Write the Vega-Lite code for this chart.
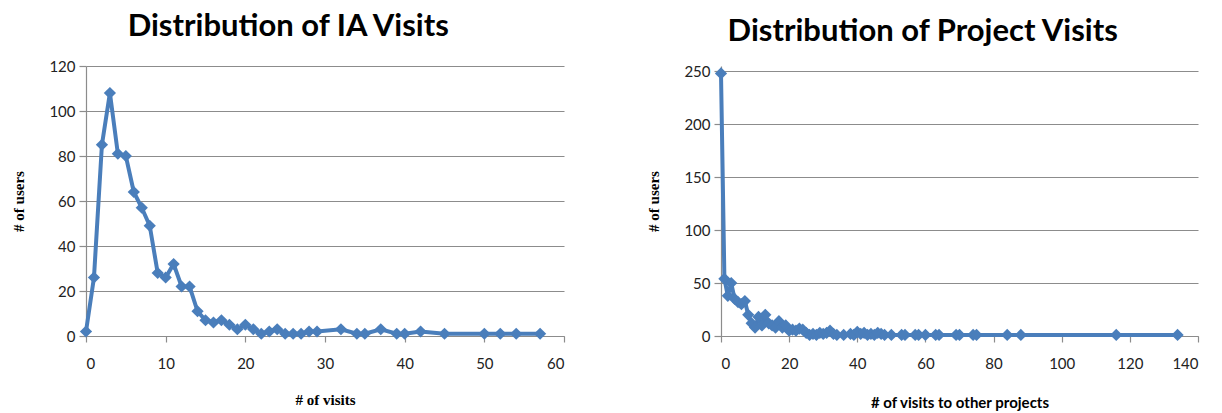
{
  "$schema": "https://vega.github.io/schema/vega-lite/v6.json",
  "background": "white",
  "padding": {"left": 11, "top": 11, "right": 14, "bottom": 5},
  "spacing": 81,
  "config": {
    "view": {"stroke": null},
    "title": {"font": "Lato", "fontWeight": "bold", "fontSize": 31, "color": "#000000", "anchor": "middle", "frame": "bounds", "offset": 16},
    "axis": {
      "labelFont": "Lato", "labelFontSize": 15, "labelColor": "#222222",
      "domainColor": "#8c8c8c", "tickColor": "#8c8c8c", "gridColor": "#8c8c8c",
      "domainWidth": 1.2, "tickWidth": 1.2, "gridWidth": 1.2,
      "titleColor": "#000000", "titleFontWeight": "bold"
    }
  },
  "datasets": {
    "ia": [
      {"visits": 0, "users": 2}, {"visits": 1, "users": 26}, {"visits": 2, "users": 85},
      {"visits": 3, "users": 108}, {"visits": 4, "users": 81}, {"visits": 5, "users": 80},
      {"visits": 6, "users": 64}, {"visits": 7, "users": 57}, {"visits": 8, "users": 49},
      {"visits": 9, "users": 28}, {"visits": 10, "users": 26}, {"visits": 11, "users": 32},
      {"visits": 12, "users": 22}, {"visits": 13, "users": 22}, {"visits": 14, "users": 11},
      {"visits": 15, "users": 7}, {"visits": 16, "users": 6}, {"visits": 17, "users": 7},
      {"visits": 18, "users": 5}, {"visits": 19, "users": 3}, {"visits": 20, "users": 5},
      {"visits": 21, "users": 3}, {"visits": 22, "users": 1}, {"visits": 23, "users": 2},
      {"visits": 24, "users": 3}, {"visits": 25, "users": 1}, {"visits": 26, "users": 1},
      {"visits": 27, "users": 1}, {"visits": 28, "users": 2}, {"visits": 29, "users": 2},
      {"visits": 32, "users": 3}, {"visits": 34, "users": 1}, {"visits": 35, "users": 1},
      {"visits": 37, "users": 3}, {"visits": 39, "users": 1}, {"visits": 40, "users": 1},
      {"visits": 42, "users": 2}, {"visits": 45, "users": 1}, {"visits": 50, "users": 1},
      {"visits": 52, "users": 1}, {"visits": 54, "users": 1}, {"visits": 57, "users": 1}
    ],
    "projects": [
      {"visits": 0, "users": 248}, {"visits": 1, "users": 54}, {"visits": 2, "users": 38},
      {"visits": 3, "users": 50}, {"visits": 4, "users": 35}, {"visits": 5, "users": 32},
      {"visits": 6, "users": 30}, {"visits": 7, "users": 33}, {"visits": 8, "users": 20},
      {"visits": 9, "users": 12}, {"visits": 10, "users": 8}, {"visits": 11, "users": 18},
      {"visits": 12, "users": 10}, {"visits": 13, "users": 20}, {"visits": 14, "users": 12},
      {"visits": 15, "users": 10}, {"visits": 16, "users": 8}, {"visits": 17, "users": 14},
      {"visits": 18, "users": 8}, {"visits": 19, "users": 10}, {"visits": 20, "users": 5},
      {"visits": 21, "users": 6}, {"visits": 22, "users": 5}, {"visits": 23, "users": 7},
      {"visits": 24, "users": 6}, {"visits": 25, "users": 3}, {"visits": 26, "users": 1},
      {"visits": 27, "users": 2}, {"visits": 28, "users": 1}, {"visits": 29, "users": 3},
      {"visits": 30, "users": 2}, {"visits": 31, "users": 3}, {"visits": 32, "users": 5},
      {"visits": 33, "users": 2}, {"visits": 34, "users": 1}, {"visits": 36, "users": 1},
      {"visits": 38, "users": 2}, {"visits": 39, "users": 1}, {"visits": 40, "users": 4},
      {"visits": 41, "users": 2}, {"visits": 42, "users": 3}, {"visits": 43, "users": 1},
      {"visits": 44, "users": 2}, {"visits": 45, "users": 1}, {"visits": 46, "users": 3},
      {"visits": 47, "users": 2}, {"visits": 48, "users": 1}, {"visits": 50, "users": 1},
      {"visits": 53, "users": 1}, {"visits": 54, "users": 1}, {"visits": 57, "users": 1},
      {"visits": 58, "users": 1}, {"visits": 60, "users": 1}, {"visits": 63, "users": 1},
      {"visits": 64, "users": 1}, {"visits": 69, "users": 1}, {"visits": 70, "users": 1},
      {"visits": 74, "users": 1}, {"visits": 75, "users": 1}, {"visits": 84, "users": 1},
      {"visits": 88, "users": 1}, {"visits": 116, "users": 1}, {"visits": 134, "users": 1}
    ]
  },
  "hconcat": [
    {
      "title": "Distribu\u200Cti\u200Con of IA Visits",
      "width": 478,
      "height": 270,
      "data": {"name": "ia"},
      "mark": {"type": "line", "color": "#4a7ebb", "strokeWidth": 4, "point": {"shape": "diamond", "size": 150, "color": "#4a7ebb", "filled": true, "opacity": 1}},
      "encoding": {
        "x": {"field": "visits", "type": "quantitative", "scale": {"domain": [0, 60], "nice": false},
          "axis": {"values": [0, 10, 20, 30, 40, 50, 60], "grid": false, "tickSize": 6, "labelPadding": 14,
            "title": "# of visits", "titleFont": "Liberation Serif", "titleFontSize": 15, "titlePadding": 21}},
        "y": {"field": "users", "type": "quantitative", "scale": {"domain": [0, 120], "nice": false},
          "axis": {"values": [0, 20, 40, 60, 80, 100, 120], "grid": true, "tickSize": 7, "labelPadding": 4,
            "title": "# of users", "titleFont": "Liberation Serif", "titleFontSize": 15, "titlePadding": 22}}
      }
    },
    {
      "title": "Distribu\u200Cti\u200Con of Project Visits",
      "width": 477,
      "height": 270,
      "data": {"name": "projects"},
      "mark": {"type": "line", "color": "#4a7ebb", "strokeWidth": 4, "point": {"shape": "diamond", "size": 150, "color": "#4a7ebb", "filled": true, "opacity": 1}},
      "encoding": {
        "x": {"field": "visits", "type": "quantitative", "scale": {"domain": [0, 140], "nice": false},
          "axis": {"values": [0, 20, 40, 60, 80, 100, 120, 140], "grid": false, "tickSize": 6, "labelPadding": 14,
            "title": "# of visits to other projects", "titleFont": "Lato", "titleFontSize": 15, "titlePadding": 24}},
        "y": {"field": "users", "type": "quantitative", "scale": {"domain": [0, 255], "nice": false},
          "axis": {"values": [0, 50, 100, 150, 200, 250], "grid": true, "tickSize": 7, "labelPadding": 4,
            "title": "# of users", "titleFont": "Liberation Serif", "titleFontSize": 15, "titlePadding": 22}}
      }
    }
  ]
}
